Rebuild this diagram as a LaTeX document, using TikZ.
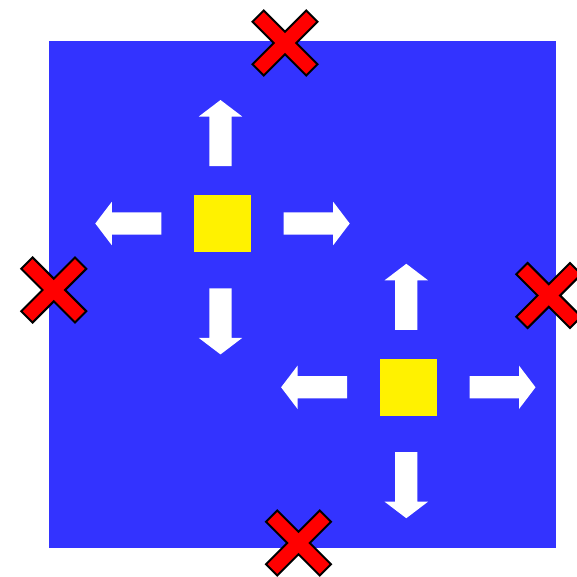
\documentclass[tikz,border=0pt]{standalone}
\usetikzlibrary{arrows.meta}

\definecolor{fieldblue}{RGB}{51,51,255}

\begin{document}
\begin{tikzpicture}[x=1pt, y=-1pt,
  spot/.style={fill=yellow, inner sep=0pt, minimum size=57pt},
  push/.pic={\fill[white] (0,-11.15) -- (49.5,-11.15) -- (49.5,-21.7) -- (66,0)
    -- (49.5,21.7) -- (49.5,11.15) -- (0,11.15) -- cycle;},
  xmark/.pic={\filldraw[fill=red, draw=black, line width=2pt, line join=miter, rotate=45]
    (8,8) -- (38,8) -- (38,-8) -- (8,-8) -- (8,-38) -- (-8,-38)
    -- (-8,-8) -- (-38,-8) -- (-38,8) -- (-8,8) -- (-8,38) -- (8,38) -- cycle;}]
\useasboundingbox (0,0) rectangle (577,576);
\fill[fieldblue] (49,41) rectangle (556,548);

\node[spot] (s1) at (222.5,223.5) {};
\node[spot] (s2) at (408.3,387.3) {};

\pic[rotate=90] at ([shift={(-2,-28.8)}]s1.north) {push};
\pic[rotate=-90] at ([shift={(-2,36.2)}]s1.south) {push};
\pic[rotate=180] at ([shift={(-32.5,0)}]s1.west) {push};
\pic at ([shift={(32.5,0)}]s1.east) {push};

\pic[rotate=90] at ([shift={(-2,-28.8)}]s2.north) {push};
\pic[rotate=-90] at ([shift={(-2,36.2)}]s2.south) {push};
\pic[rotate=180] at ([shift={(-32.5,0)}]s2.west) {push};
\pic at ([shift={(32.5,0)}]s2.east) {push};

\pic at (285,43) {xmark};
\pic at (53.8,290) {xmark};
\pic at (548.8,295.5) {xmark};
\pic at (298.5,543) {xmark};
\end{tikzpicture}
\end{document}
